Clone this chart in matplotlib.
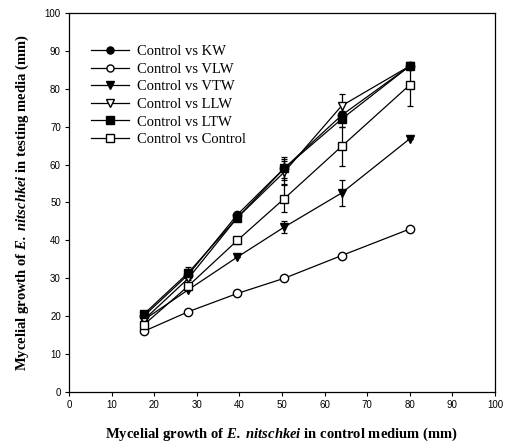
import matplotlib
matplotlib.use("Agg")
import matplotlib.pyplot as plt
import numpy as np

plt.rcParams["mathtext.fontset"] = "custom"
plt.rcParams["mathtext.bfit"] = "Liberation Serif:italic:bold"
plt.rcParams["mathtext.it"] = "Liberation Serif:italic"
plt.rcParams["mathtext.rm"] = "Liberation Serif"

# Mycelial growth in control medium (x) vs testing media (y), mm
control_growth = [17.5, 28, 39.5, 50.5, 64, 80]

kw = [20.0, 31.0, 46.8, 59.0, 73.0, 86.0]
kw_err = [0, 1.5, 0, 2.5, 0, 0]
vlw = [16.0, 21.2, 26.0, 30.0, 36.0, 43.0]
vlw_err = [0, 0, 0, 0, 0, 0]
vtw = [19.0, 27.0, 35.6, 43.5, 52.5, 66.8]
vtw_err = [0, 0, 0, 1.5, 3.5, 0]
llw = [19.0, 30.0, 46.0, 58.0, 75.5, 86.0]
llw_err = [0, 0, 0, 3.0, 3.0, 0]
ltw = [20.5, 31.5, 46.0, 59.0, 72.0, 86.0]
ltw_err = [1.0, 1.5, 1.0, 3.0, 2.0, 0]
ctrl = [17.7, 28.0, 40.0, 51.0, 64.8, 81.0]
ctrl_err = [0, 0, 1.0, 3.5, 5.2, 5.5]

series_labels = ["Control vs KW", "Control vs VLW", "Control vs VTW",
                 "Control vs LLW", "Control vs LTW", "Control vs Control"]
x_ticks = [0, 10, 20, 30, 40, 50, 60, 70, 80, 90, 100]
y_ticks = [0, 10, 20, 30, 40, 50, 60, 70, 80, 90, 100]

fig = plt.figure(figsize=(5.05, 4.45), dpi=100)
ax = fig.add_axes([0.137, 0.119, 0.843, 0.852])

styles = [
    (kw, kw_err, "o", "black"),
    (vlw, vlw_err, "o", "white"),
    (vtw, vtw_err, "v", "black"),
    (llw, llw_err, "v", "white"),
    (ltw, ltw_err, "s", "black"),
    (ctrl, ctrl_err, "s", "white"),
]

for (vals, err, mk, fc), lab in zip(styles, series_labels):
    ax.errorbar(control_growth, vals, yerr=err, marker=mk, color="black",
                markerfacecolor=fc, markeredgecolor="black", markersize=6,
                linewidth=0.9, elinewidth=0.9, capsize=2.5, capthick=0.9,
                label=lab)

ax.set_xlim(0, 100)
ax.set_ylim(0, 100)
ax.set_xticks(x_ticks)
ax.set_yticks(y_ticks)
ax.tick_params(direction="out", length=3, width=0.8, labelsize=7, pad=3)
for lbl in ax.get_xticklabels() + ax.get_yticklabels():
    lbl.set_family("Liberation Sans")
for sp in ax.spines.values():
    sp.set_linewidth(0.9)

ax.set_xlabel(r"Mycelial growth of $\mathbfit{E.}$ $\mathbfit{nitschkei}$ in control medium (mm)",
              family="Liberation Serif", fontweight="bold", fontsize=10.5, labelpad=11)
ax.set_ylabel(r"Mycelial growth of $\mathbfit{E.}$ $\mathbfit{nitschkei}$ in testing media (mm)",
              family="Liberation Serif", fontweight="bold", fontsize=10.5, labelpad=10)

handles, labels = ax.get_legend_handles_labels()
handles = [h[0] for h in handles]
ax.legend(handles, labels, loc="upper left", bbox_to_anchor=(0.02, 0.95),
          frameon=False, prop={"family": "Liberation Serif", "size": 10.5},
          handlelength=2.6, handletextpad=0.6, labelspacing=0.3,
          borderaxespad=0.5, markerscale=0.85)

fig.savefig("out.png", dpi=100)
